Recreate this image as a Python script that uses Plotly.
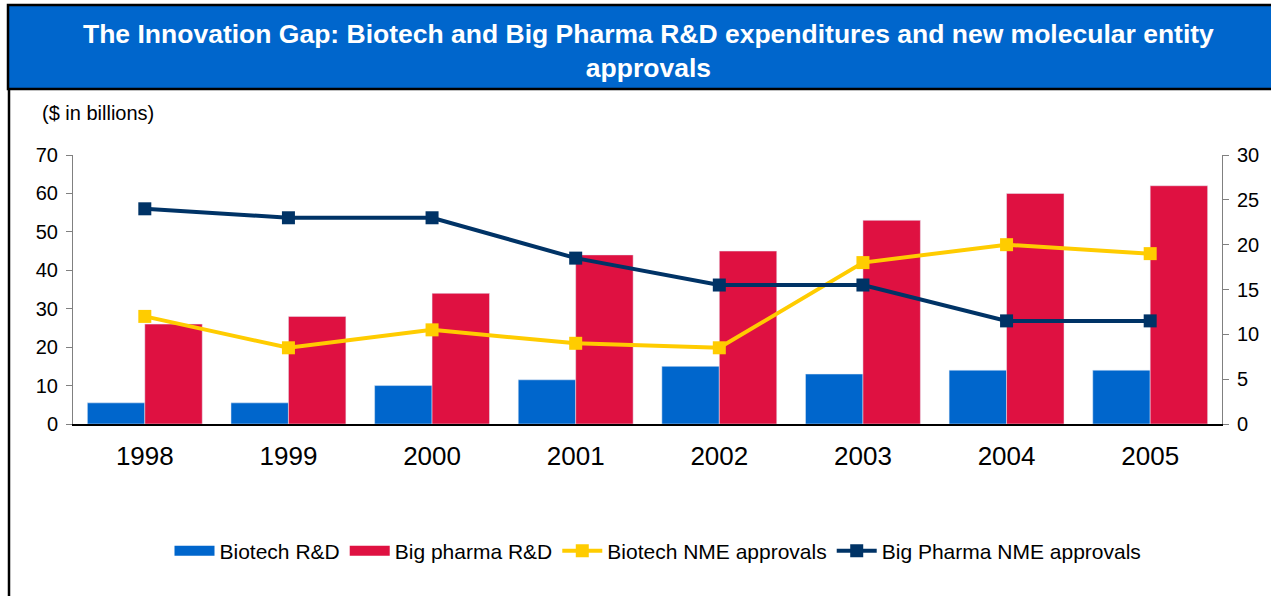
import plotly.graph_objects as go

FONT_FAMILY = "Liberation Sans, Arial, sans-serif"

years = ["1998", "1999", "2000", "2001", "2002", "2003", "2004", "2005"]
biotech_rd = [5.5, 5.5, 10, 11.5, 15, 13, 14, 14]
big_pharma_rd = [26, 28, 34, 44, 45, 53, 60, 62]
biotech_nme = [12, 8.5, 10.5, 9, 8.5, 18, 20, 19]
big_pharma_nme = [24, 23, 23, 18.5, 15.5, 15.5, 11.5, 11.5]

BLUE = "#0066CC"
RED = "#DF1141"
YELLOW = "#FFCC00"
NAVY = "#003366"

W, H = 1271, 596
PLOT_L, PLOT_R, PLOT_T, PLOT_B = 73, 1222, 155, 424


def px_x(p):
    return (p - PLOT_L) / (PLOT_R - PLOT_L)


def px_y(p):
    return (PLOT_B - p) / (PLOT_B - PLOT_T)


fig = go.Figure()
fig.add_trace(go.Bar(x=years, y=biotech_rd, name="Biotech R&D", marker_color=BLUE, showlegend=False))
fig.add_trace(go.Bar(x=years, y=big_pharma_rd, name="Big pharma R&D", marker_color=RED, showlegend=False))

# legend swatches for the bars (wide blocks like the original)
for name, color in [("Biotech R&D", BLUE), ("Big pharma R&D", RED)]:
    fig.add_trace(
        go.Scatter(
            x=[None], y=[None], name=name, mode="lines",
            line=dict(color=color, width=14), hoverinfo="skip",
        )
    )

fig.add_trace(
    go.Scatter(
        x=years, y=biotech_nme, name="Biotech NME approvals", yaxis="y2",
        mode="lines+markers", line=dict(color=YELLOW, width=4),
        marker=dict(symbol="square", size=13, color=YELLOW),
    )
)
fig.add_trace(
    go.Scatter(
        x=years, y=big_pharma_nme, name="Big Pharma NME approvals", yaxis="y2",
        mode="lines+markers", line=dict(color=NAVY, width=4),
        marker=dict(symbol="square", size=13, color=NAVY),
    )
)

# title bar and frame
fig.add_shape(
    type="rect", xref="paper", yref="paper",
    x0=px_x(8), x1=px_x(1290), y0=px_y(89), y1=px_y(5),
    fillcolor=BLUE, line=dict(color="black", width=2.5), layer="below",
)
fig.add_shape(
    type="line", xref="paper", yref="paper",
    x0=px_x(9), x1=px_x(9), y0=px_y(89), y1=px_y(620),
    line=dict(color="black", width=2.5),
)
fig.add_annotation(
    xref="paper", yref="paper", x=px_x(648), y=px_y(51),
    text="<b>The Innovation Gap: Biotech and Big Pharma R&D expenditures and new molecular entity<br>approvals</b>",
    showarrow=False, xanchor="center", yanchor="middle", align="center",
    font=dict(family=FONT_FAMILY, size=26.5, color="white"),
)
fig.add_annotation(
    xref="paper", yref="paper", x=px_x(40), y=px_y(113),
    text="($ in billions)", showarrow=False, xanchor="left", yanchor="middle",
    font=dict(family=FONT_FAMILY, size=20, color="black"),
)

fig.update_layout(
    width=W,
    height=H,
    margin=dict(l=PLOT_L, r=W - PLOT_R, t=PLOT_T, b=H - PLOT_B),
    paper_bgcolor="white",
    plot_bgcolor="white",
    font=dict(family=FONT_FAMILY, color="black"),
    barmode="group",
    bargap=0.2,
    bargroupgap=0,
    xaxis=dict(
        showline=True, linecolor="black", linewidth=2, showgrid=False,
        tickfont=dict(size=26), ticks="", ticklabelstandoff=8,
    ),
    yaxis=dict(
        range=[0, 70], dtick=10, showgrid=False, zeroline=False,
        showline=True, linecolor="#808080", linewidth=1,
        ticks="outside", ticklen=6, tickcolor="#808080",
        tickfont=dict(size=20), ticklabelstandoff=4,
    ),
    yaxis2=dict(
        range=[0, 30], dtick=5, overlaying="y", side="right",
        showgrid=False, zeroline=False,
        showline=True, linecolor="#808080", linewidth=1,
        ticks="outside", ticklen=6, tickcolor="#808080",
        tickfont=dict(size=20), ticklabelstandoff=4,
    ),
    legend=dict(
        orientation="h", x=px_x(658), xanchor="center", y=px_y(551), yanchor="middle",
        font=dict(size=21), traceorder="normal", itemwidth=40,
    ),
)

fig.write_html(
    "out.html",
    config={"displayModeBar": False},
    post_script="document.body.style.margin='0';",
)
